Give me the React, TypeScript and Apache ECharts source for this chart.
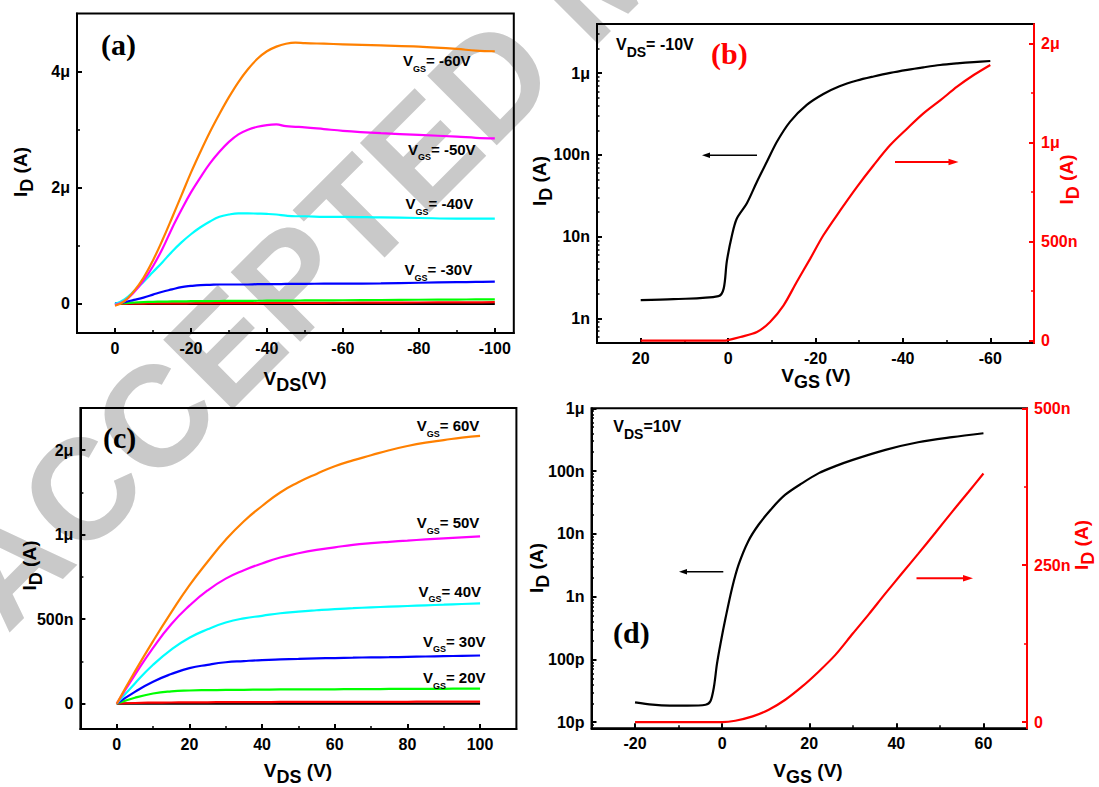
import React, { useEffect, useRef } from "react";
import * as echarts from "echarts";

// ---------- Panel (a): output curves, VDS negative, ID in μA ----------
const aVds = [0, -2.5, -5, -7.5, -10, -12.5, -15, -17.5, -20, -22.5, -25, -27.5, -30, -32.5, -35, -37.5, -40, -42.5, -45, -47.5, -50, -55, -60, -70, -80, -90, -95, -100];
const aId60 = [-0.03, 0.05, 0.22, 0.45, 0.75, 1.1, 1.48, 1.87, 2.26, 2.62, 2.96, 3.27, 3.56, 3.82, 4.04, 4.22, 4.35, 4.43, 4.48, 4.5, 4.49, 4.48, 4.47, 4.45, 4.43, 4.39, 4.36, 4.35];
const aId50 = [-0.02, 0.05, 0.2, 0.4, 0.65, 0.95, 1.3, 1.62, 1.92, 2.18, 2.42, 2.62, 2.79, 2.92, 3.0, 3.05, 3.08, 3.09, 3.06, 3.05, 3.04, 3.01, 2.98, 2.94, 2.91, 2.88, 2.86, 2.85];
const aId40 = [0, 0.08, 0.22, 0.38, 0.55, 0.72, 0.9, 1.06, 1.2, 1.32, 1.42, 1.5, 1.54, 1.56, 1.56, 1.555, 1.55, 1.54, 1.52, 1.51, 1.51, 1.5, 1.5, 1.49, 1.48, 1.47, 1.47, 1.47];
const aId30 = [0, 0.03, 0.07, 0.11, 0.16, 0.21, 0.25, 0.29, 0.31, 0.325, 0.33, 0.335, 0.335, 0.335, 0.335, 0.34, 0.34, 0.34, 0.345, 0.345, 0.345, 0.35, 0.35, 0.355, 0.365, 0.375, 0.38, 0.385];
const aId20 = [0, 0.015, 0.025, 0.032, 0.037, 0.04, 0.043, 0.045, 0.047, 0.048, 0.05, 0.051, 0.052, 0.053, 0.054, 0.055, 0.056, 0.057, 0.058, 0.059, 0.06, 0.062, 0.064, 0.068, 0.072, 0.076, 0.078, 0.08];
const aId10 = [0, 0.003, 0.005, 0.007, 0.008, 0.009, 0.01, 0.011, 0.012, 0.013, 0.013, 0.014, 0.015, 0.015, 0.016, 0.016, 0.017, 0.017, 0.018, 0.018, 0.019, 0.02, 0.021, 0.023, 0.025, 0.027, 0.028, 0.03];
const aId0 = [0, 0.001, 0.001, 0.001, 0.001, 0.001, 0.001, 0.001, 0.001, 0.001, 0.001, 0.001, 0.001, 0.001, 0.001, 0.001, 0.001, 0.001, 0.001, 0.001, 0.001, 0.001, 0.001, 0.001, 0.001, 0.001, 0.001, 0.001];
const aVgsLabels = ["-60V", "-50V", "-40V", "-30V"];

// ---------- Panel (b): transfer curve, VDS = -10 V ----------
const bVgsLog = [20, 12.5, 2.2, 1.0, 0.3, -0.9, -2.0, -4.3, -6.6, -8.9, -11.2, -14.2, -18, -21.8, -25.5, -29.5, -33.3, -37.1, -41, -44.7, -48.5, -52.4, -56.2, -60];
const bIdLog = [1.67e-9, 1.72e-9, 1.87e-9, 2.33e-9, 4.94e-9, 1.05e-8, 1.67e-8, 2.57e-8, 4.71e-8, 8.3e-8, 1.46e-7, 2.56e-7, 4.09e-7, 5.56e-7, 6.92e-7, 8.13e-7, 9.12e-7, 1.01e-6, 1.1e-6, 1.18e-6, 1.26e-6, 1.32e-6, 1.37e-6, 1.41e-6];
const bVgsLin = [20, 1.0, 0.3, -2.8, -6.6, -9.6, -12.7, -15.7, -18.8, -21.8, -25.7, -29.5, -33.3, -37.1, -41.0, -44.7, -48.6, -52.4, -56.2, -60];
const bIdLin = [0, 0, 0.001, 0.018, 0.043, 0.094, 0.178, 0.296, 0.414, 0.532, 0.659, 0.777, 0.886, 0.988, 1.072, 1.148, 1.215, 1.283, 1.342, 1.393]; // μA

// ---------- Panel (c): output curves, VDS positive, ID in μA ----------
const cVds = [0, 5, 10, 15, 20, 25, 30, 35, 40, 45, 50, 55, 60, 65, 70, 75, 80, 85, 90, 95, 100];
const cId60 = [0, 0.19, 0.37, 0.54, 0.7, 0.84, 0.97, 1.08, 1.17, 1.25, 1.31, 1.36, 1.405, 1.44, 1.47, 1.5, 1.525, 1.545, 1.56, 1.575, 1.585];
const cId50 = [0, 0.17, 0.33, 0.47, 0.58, 0.67, 0.74, 0.79, 0.83, 0.865, 0.89, 0.91, 0.925, 0.94, 0.95, 0.958, 0.965, 0.972, 0.978, 0.984, 0.99];
const cId40 = [0, 0.12, 0.23, 0.32, 0.39, 0.44, 0.48, 0.505, 0.52, 0.535, 0.545, 0.553, 0.56, 0.565, 0.57, 0.574, 0.578, 0.582, 0.586, 0.59, 0.593];
const cId30 = [0, 0.07, 0.13, 0.175, 0.21, 0.23, 0.245, 0.252, 0.258, 0.262, 0.265, 0.268, 0.27, 0.272, 0.274, 0.275, 0.277, 0.279, 0.281, 0.283, 0.285];
const cId20 = [0, 0.035, 0.06, 0.073, 0.078, 0.08, 0.081, 0.082, 0.083, 0.084, 0.084, 0.085, 0.085, 0.086, 0.086, 0.087, 0.087, 0.088, 0.088, 0.089, 0.089];
const cId10 = [0, 0.004, 0.006, 0.007, 0.008, 0.008, 0.009, 0.009, 0.009, 0.01, 0.01, 0.01, 0.01, 0.011, 0.011, 0.011, 0.011, 0.012, 0.012, 0.012, 0.012];
const cId0 = [0, 0, 0, 0, 0, 0, 0, 0, 0, 0, 0, 0, 0, 0, 0, 0, 0, 0, 0, 0, 0];
const cVgsLabels = ["60V", "50V", "40V", "30V", "20V"];

// ---------- Panel (d): transfer curve, VDS = 10 V ----------
const dVgsLog = [-20, -16, -12, -8, -3.8, -2.7, -1.9, -1.2, -0.4, 0.8, 2.3, 3.8, 6, 8.4, 11.5, 14.5, 18.4, 22.2, 26, 30, 37.5, 45, 52.8, 60];
const dIdLog = [2.07e-11, 1.9e-11, 1.84e-11, 1.84e-11, 1.9e-11, 2.15e-11, 3.6e-11, 8.4e-11, 1.75e-10, 4.64e-10, 1.39e-9, 3.26e-9, 7.65e-9, 1.41e-8, 2.59e-8, 4.21e-8, 6.45e-8, 9.29e-8, 1.2e-7, 1.51e-7, 2.18e-7, 2.88e-7, 3.47e-7, 4.01e-7];
const dVgsLin = [-20, 0, 3, 7, 10.7, 14.5, 18.4, 22.2, 26, 30, 33.7, 37.5, 41.3, 45, 49, 52.8, 56.6, 60];
const dIdLin = [0, 0, 2.1, 9, 19.6, 35.5, 56.7, 80.6, 107, 141, 172, 205, 237, 268, 302, 335, 367, 396]; // nA

// ---------- Tick values and labels ----------
const aXTicks = [0, -20, -40, -60, -80, -100];
const aXMinor = [-10, -30, -50, -70, -90];
const aYTicks = [0, 2, 4];
const aYLabels = ["0", "2μ", "4μ"];
const aYMinor = [1, 3];
const bXTicks = [20, 0, -20, -40, -60];
const bXMinor = [10, -10, -30, -50];
const bLogTicks = [1e-9, 1e-8, 1e-7, 1e-6];
const bLogLabels = ["1n", "10n", "100n", "1μ"];
const bLinTicks = [0, 0.5, 1, 1.5];
const bLinLabels = ["0", "500n", "1μ", "2μ"];
const bLinMinor = [0.25, 0.75, 1.25];
const cXTicks = [0, 20, 40, 60, 80, 100];
const cXMinor = [10, 30, 50, 70, 90];
const cYTicks = [0, 0.5, 1, 1.5];
const cYLabels = ["0", "500n", "1μ", "2μ"];
const cYMinor = [0.25, 0.75, 1.25];
const dXTicks = [-20, 0, 20, 40, 60];
const dXMinor = [-10, 10, 30, 50];
const dLogTicks = [1e-11, 1e-10, 1e-9, 1e-8, 1e-7, 1e-6];
const dLogLabels = ["10p", "100p", "1n", "10n", "100n", "1μ"];
const dLinTicks = [0, 250, 500];
const dLinLabels = ["0", "250n", "500n"];
const dLinMinor = [125, 375];

const FONT = "'Liberation Sans', Arial, Helvetica, sans-serif";
const SERIF = "'Liberation Serif', 'Times New Roman', serif";
const K = "#000000";
const R = "#ff0000";
const C_OR = "#ff8000";
const C_MG = "#ff00ff";
const C_CY = "#00ffff";
const C_BL = "#0000ff";
const C_GR = "#00ff00";
const LW = 2.2;

function logMinor(e0: number, e1: number, lo: number, hi: number) {
  const out: number[] = [];
  for (let e = e0; e <= e1; e++) {
    for (let m = 2; m <= 9; m++) {
      const v = m * Math.pow(10, e);
      if (v > lo && v < hi) out.push(v);
    }
  }
  return out;
}

function pick(ticks: number[], labels: string[], log = false) {
  return (v: number) => {
    let best = 0;
    let bd = Infinity;
    ticks.forEach((t, i) => {
      const d = log ? Math.abs(Math.log10(v) - Math.log10(t)) : Math.abs(v - t);
      if (d < bd) {
        bd = d;
        best = i;
      }
    });
    return labels[best];
  };
}

function mainAxis(gridIndex: number, type: string, min: number, max: number, ticks: number[], fmt: any, opts: any = {}) {
  const color = opts.color || K;
  return {
    type,
    gridIndex,
    min,
    max,
    inverse: !!opts.inverse,
    position: opts.position,
    logBase: 10,
    z: opts.z ?? 1,
    axisLine: { show: true, onZero: false, lineStyle: { color, width: 2 } },
    axisTick: { show: true, inside: true, length: 5, customValues: ticks, lineStyle: { color, width: 2 } },
    axisLabel: {
      show: true,
      customValues: ticks,
      formatter: fmt,
      color,
      fontSize: 16,
      fontWeight: "bold",
      fontFamily: FONT,
      margin: 7,
    },
    splitLine: { show: false },
    minorTick: { show: false },
    minorSplitLine: { show: false },
  };
}

function minorAxis(gridIndex: number, type: string, min: number, max: number, ticks: number[], opts: any = {}) {
  const color = opts.color || K;
  return {
    type,
    gridIndex,
    min,
    max,
    inverse: !!opts.inverse,
    position: opts.position,
    logBase: 10,
    z: 1,
    axisLine: { show: false, onZero: false },
    axisTick: { show: true, inside: true, length: opts.len ?? 3, customValues: ticks, lineStyle: { color, width: 1.5 } },
    axisLabel: { show: false },
    splitLine: { show: false },
  };
}

function line(name: string, xs: number[], ys: number[], color: string, xi: number, yi: number, smooth: any = 0.4) {
  return {
    name,
    type: "line",
    xAxisIndex: xi,
    yAxisIndex: yi,
    data: xs.map((x, i) => [x, ys[i]]),
    symbol: "none",
    showSymbol: false,
    smooth,
    lineStyle: { color, width: LW },
    itemStyle: { color },
    z: 3,
    silent: true,
    clip: true,
  };
}

function richSet(main: number, sub: number, pad: number, color: string) {
  return {
    t: { fontSize: main, fontWeight: "bold", fontFamily: FONT, fill: color, verticalAlign: "top" },
    s: { fontSize: sub, fontWeight: "bold", fontFamily: FONT, fill: color, verticalAlign: "top", padding: [pad, 0, 0, 0] },
  };
}

function rtext(x: number, y: number, text: string, rich: any, align = "left", vAlign = "top", rotation = 0) {
  return { type: "text", x, y, rotation, z: 10, silent: true, style: { text, rich, align, verticalAlign: vAlign } };
}

function arrow(x1: number, x2: number, y: number, color: string, w: number, hl: number, hw: number) {
  const dir = x2 > x1 ? 1 : -1;
  return [
    { type: "line", z: 10, silent: true, shape: { x1, y1: y, x2: x2 - dir * hl * 0.6, y2: y }, style: { stroke: color, lineWidth: w } },
    {
      type: "polygon",
      z: 10,
      silent: true,
      shape: { points: [[x2, y], [x2 - dir * hl, y - hw], [x2 - dir * hl, y + hw]] },
      style: { fill: color },
    },
  ];
}

function buildOption() {
  const grids = [
    { left: 77, top: 13.5, width: 436.8, height: 319.5 },
    { left: 597, top: 24, width: 437, height: 319 },
    { left: 80.4, top: 408, width: 436, height: 321 },
    { left: 591.5, top: 408.3, width: 435.5, height: 320 },
  ];
  const bLogMinor = logMinor(-10, -6, 5e-10, 4e-6);
  const dLogMinor = logMinor(-12, -7, 8e-12, 1e-6);

  const xAxis = [
    mainAxis(0, "value", -105, 10, aXTicks, (v: number) => String(v), { inverse: true, position: "bottom" }),
    mainAxis(1, "value", -70, 30, bXTicks, (v: number) => String(v), { inverse: true, position: "bottom" }),
    mainAxis(2, "value", -10, 110, cXTicks, (v: number) => String(v), { position: "bottom" }),
    mainAxis(3, "value", -30, 70, dXTicks, (v: number) => String(v), { position: "bottom" }),
    minorAxis(4, "value", -105, 10, aXMinor, { inverse: true, position: "bottom" }),
    minorAxis(5, "value", -70, 30, bXMinor, { inverse: true, position: "bottom" }),
    minorAxis(6, "value", -10, 110, cXMinor, { position: "bottom" }),
    minorAxis(7, "value", -30, 70, dXMinor, { position: "bottom" }),
  ];
  const yAxis = [
    mainAxis(0, "value", -0.5, 5, aYTicks, pick(aYTicks, aYLabels), { position: "left" }),
    mainAxis(1, "log", 5e-10, 4e-6, bLogTicks, pick(bLogTicks, bLogLabels, true), { position: "left" }),
    mainAxis(1, "value", -0.0125, 1.6, bLinTicks, pick(bLinTicks, bLinLabels), { position: "right", color: R, z: 3 }),
    mainAxis(2, "value", -0.15, 1.75, cYTicks, pick(cYTicks, cYLabels), { position: "left" }),
    mainAxis(3, "log", 8e-12, 1.001e-6, dLogTicks, pick(dLogTicks, dLogLabels, true), { position: "left" }),
    mainAxis(3, "value", -10, 500, dLinTicks, pick(dLinTicks, dLinLabels), { position: "right", color: R, z: 3 }),
    minorAxis(4, "value", -0.5, 5, aYMinor, { position: "left" }),
    minorAxis(5, "log", 5e-10, 4e-6, bLogMinor, { position: "left", len: 2.5 }),
    minorAxis(5, "value", -0.0125, 1.6, bLinMinor, { position: "right", color: R }),
    minorAxis(6, "value", -0.15, 1.75, cYMinor, { position: "left" }),
    minorAxis(7, "log", 8e-12, 1.001e-6, dLogMinor, { position: "left", len: 2.5 }),
    minorAxis(7, "value", -10, 500, dLinMinor, { position: "right", color: R }),
  ];

  const series = [
    line("VGS=0V (a)", aVds, aId0, K, 0, 0),
    line("VGS=-10V (a)", aVds, aId10, R, 0, 0),
    line("VGS=-20V (a)", aVds, aId20, C_GR, 0, 0),
    line("VGS=-30V (a)", aVds, aId30, C_BL, 0, 0),
    line("VGS=-40V (a)", aVds, aId40, C_CY, 0, 0),
    line("VGS=-50V (a)", aVds, aId50, C_MG, 0, 0),
    line("VGS=-60V (a)", aVds, aId60, C_OR, 0, 0),
    line("ID log (b)", bVgsLog, bIdLog, K, 1, 1, 0.3),
    line("ID lin (b)", bVgsLin, bIdLin, R, 1, 2, 0.3),
    line("VGS=0V (c)", cVds, cId0, K, 2, 3, 0.5),
    line("VGS=10V (c)", cVds, cId10, R, 2, 3, 0.5),
    line("VGS=20V (c)", cVds, cId20, C_GR, 2, 3, 0.5),
    line("VGS=30V (c)", cVds, cId30, C_BL, 2, 3, 0.5),
    line("VGS=40V (c)", cVds, cId40, C_CY, 2, 3, 0.5),
    line("VGS=50V (c)", cVds, cId50, C_MG, 2, 3, 0.5),
    line("VGS=60V (c)", cVds, cId60, C_OR, 2, 3, 0.5),
    line("ID log (d)", dVgsLog, dIdLog, K, 3, 4, 0.3),
    line("ID lin (d)", dVgsLin, dIdLin, R, 3, 5, 0.3),
  ];

  const annRich = richSet(15, 9, 11, K);
  const vdsRich = richSet(16, 14, 8.5, K);
  const titleK = richSet(19, 18, 7, K);
  const titleR = richSet(19, 18, 7, R);

  const aPos = [[403, 53], [408, 141.7], [405.6, 196], [404.6, 262]];
  const cPos = [[416.7, 418], [416.7, 515], [418.4, 583.6], [422.9, 633.8], [422.9, 670]];

  const graphic: any[] = [
    {
      type: "text",
      x: -28,
      y: 600,
      rotation: Math.PI / 4,
      z: -10,
      silent: true,
      style: {
        text: "ACCEPTED MANUSCRIPT",
        fontSize: 143,
        fontWeight: "bold",
        fontFamily: FONT,
        fill: "#c9c9c9",
        align: "left",
        verticalAlign: "middle",
      },
    },
    ...aVgsLabels.map((t, i) => rtext(aPos[i][0], aPos[i][1], `{t|V}{s|GS}{t|= ${t}}`, annRich)),
    ...cVgsLabels.map((t, i) => rtext(cPos[i][0], cPos[i][1], `{t|V}{s|GS}{t|= ${t}}`, annRich)),
    rtext(616, 36, "{t|V}{s|DS}{t|= -10V}", vdsRich),
    rtext(613.3, 418, "{t|V}{s|DS}{t|=10V}", vdsRich),
    // panel letters
    { type: "text", x: 101, y: 29, z: 10, silent: true, style: { text: "(a)", fontSize: 30, fontWeight: "bold", fontFamily: SERIF, fill: K, align: "left", verticalAlign: "top" } },
    { type: "text", x: 711, y: 38.7, z: 10, silent: true, style: { text: "(b)", fontSize: 30, fontWeight: "bold", fontFamily: SERIF, fill: R, align: "left", verticalAlign: "top" } },
    { type: "text", x: 103, y: 422.3, z: 10, silent: true, style: { text: "(c)", fontSize: 30, fontWeight: "bold", fontFamily: SERIF, fill: K, align: "left", verticalAlign: "top" } },
    { type: "text", x: 613, y: 617.2, z: 10, silent: true, style: { text: "(d)", fontSize: 30, fontWeight: "bold", fontFamily: SERIF, fill: K, align: "left", verticalAlign: "top" } },
    // axis titles
    rtext(295, 368.5, "{t|V}{s|DS}{t|(V)}", titleK, "center", "top"),
    rtext(816, 366, "{t|V}{s|GS}{t| (V)}", titleK, "center", "top"),
    rtext(298, 761, "{t|V}{s|DS}{t| (V)}", titleK, "center", "top"),
    rtext(808, 760.5, "{t|V}{s|GS}{t| (V)}", titleK, "center", "top"),
    rtext(23, 172, "{t|I}{s|D}{t| (A)}", titleK, "center", "middle", Math.PI / 2),
    rtext(542, 181, "{t|I}{s|D}{t| (A)}", titleK, "center", "middle", Math.PI / 2),
    rtext(1069, 179.5, "{t|I}{s|D}{t| (A)}", titleR, "center", "middle", Math.PI / 2),
    rtext(32.7, 565.5, "{t|I}{s|D}{t| (A)}", titleK, "center", "middle", Math.PI / 2),
    rtext(539, 568, "{t|I}{s|D}{t| (A)}", titleK, "center", "middle", Math.PI / 2),
    rtext(1084.5, 545, "{t|I}{s|D}{t| (A)}", titleR, "center", "middle", Math.PI / 2),
    // arrows
    ...arrow(757, 702, 155.3, K, 1.4, 8, 2.8),
    ...arrow(895, 958.5, 162, R, 2, 10, 3.2),
    ...arrow(723.3, 679, 571.7, K, 1.4, 8, 2.8),
    ...arrow(916.5, 973, 578.3, R, 2, 10, 3.2),
  ];

  return {
    animation: false,
    backgroundColor: "#ffffff",
    grid: [
      ...grids.map((g) => ({ ...g, show: true, borderColor: K, borderWidth: 2, backgroundColor: "transparent", containLabel: false, outerBoundsMode: "none", z: 0 })),
      ...grids.map((g) => ({ ...g, show: false, containLabel: false, outerBoundsMode: "none" })),
    ],
    xAxis,
    yAxis,
    series,
    graphic,
  };
}

export default function App() {
  const ref = useRef<HTMLDivElement>(null);
  useEffect(() => {
    if (!ref.current) return;
    const chart = echarts.init(ref.current, null, { renderer: "svg" });
    chart.setOption(buildOption() as any);
    return () => chart.dispose();
  }, []);
  return (
    <div
      ref={ref}
      style={{ position: "absolute", left: 0, top: 0, width: 1099, height: 787, background: "#fff" }}
    />
  );
}
